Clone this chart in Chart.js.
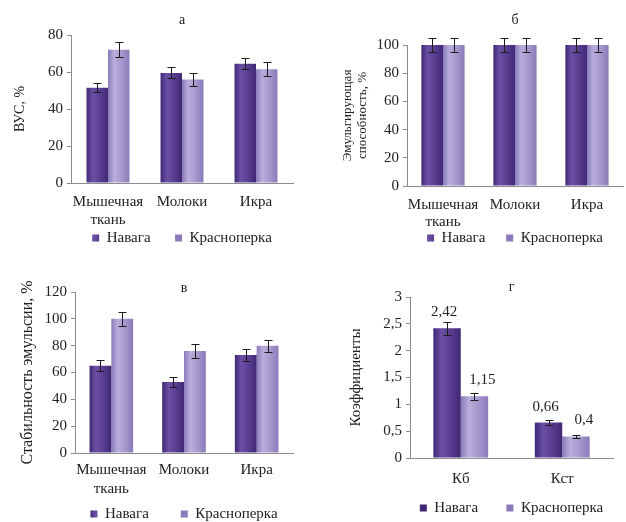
<!DOCTYPE html>
<html>
<head>
<meta charset="utf-8">
<script src="https://cdn.jsdelivr.net/npm/chart.js@4.4.1/dist/chart.umd.min.js"></script>
<style>
  html, body { margin: 0; padding: 0; background: #fff; }
  #page { position: relative; width: 626px; height: 522px; }
  .panel { position: absolute; width: 313px; height: 261px; }
</style>
</head>
<body>
<div id="page">
  <div class="panel" style="left:0;top:0"><canvas id="chartA" width="313" height="261"></canvas></div>
  <div class="panel" style="left:313px;top:0"><canvas id="chartB" width="313" height="261"></canvas></div>
  <div class="panel" style="left:0;top:261px"><canvas id="chartV" width="313" height="261"></canvas></div>
  <div class="panel" style="left:313px;top:261px"><canvas id="chartG" width="313" height="261"></canvas></div>
</div>
<script>
// categories
const tissueLabels = [['Мышечная', 'ткань'], 'Молоки', 'Икра'];
const coefLabels = ['Кб', 'Кст'];
const seriesNames = ['Навага', 'Красноперка'];

// а - ВУС, %
const wrcNavaga = [51.5, 59.5, 64.5];
const wrcNavagaErr = [2.5, 3, 3];
const wrcKrasn = [72, 56, 61.5];
const wrcKrasnErr = [4, 3.5, 3.8];

// б - эмульгирующая способность, %
const emulNavaga = [100, 100, 100];
const emulNavagaErr = [5, 5, 5];
const emulKrasn = [100, 100, 100];
const emulKrasnErr = [5, 5, 5];

// в - стабильность эмульсии, %
const stabNavaga = [65, 53, 73];
const stabNavagaErr = [4, 4, 4.5];
const stabKrasn = [100, 76, 80];
const stabKrasnErr = [5, 5, 4.5];

// г - коэффициенты
const coefNavaga = [2.42, 0.66];
const coefNavagaErr = [0.12, 0.04];
const coefKrasn = [1.15, 0.4];
const coefKrasnErr = [0.06, 0.02];

// y axis ranges: [max, step]
const wrcAxis = [80, 20];
const emulAxis = [100, 20];
const stabAxis = [120, 20];
const coefAxis = [3, 0.5];

const serif = "'Liberation Serif', 'Times New Roman', serif";
const textColor = '#222';
const axisColor = '#8c8c8c';

// fake 3D cylinder shading across each bar
function cylinder(edge, mid, light) {
    return function (c) {
        const bar = c.element;
        if (!bar || typeof bar.x !== 'number' || !bar.width) return mid;
        const x0 = bar.x - bar.width / 2;
        const g = c.chart.ctx.createLinearGradient(x0, 0, x0 + bar.width, 0);
        g.addColorStop(0, edge);
        g.addColorStop(0.3, light);
        g.addColorStop(0.65, mid);
        g.addColorStop(1, edge);
        return g;
    };
}

const navagaFill = cylinder('#3f2873', '#5a3d90', '#6c50a6');
const krasnFill = cylinder('#8a7ab9', '#a596cd', '#b9aedb');

// error bars drawn from each dataset's "errors" list
const errorBars = {
    id: 'errorBars',
    afterDatasetsDraw(chart) {
        const ctx = chart.ctx;
        const y = chart.scales.y;
        ctx.save();
        ctx.strokeStyle = '#1c1c1c';
        ctx.lineWidth = 1;
        chart.data.datasets.forEach((ds, i) => {
            if (!ds.errors) return;
            chart.getDatasetMeta(i).data.forEach((bar, j) => {
                const v = ds.data[j], e = ds.errors[j];
                const top = Math.round(y.getPixelForValue(v + e)) + 0.5;
                const bot = Math.round(y.getPixelForValue(v - e)) + 0.5;
                const x = Math.round(bar.x) + 0.5;
                ctx.beginPath();
                ctx.moveTo(x, top); ctx.lineTo(x, bot);
                ctx.moveTo(x - 4, top); ctx.lineTo(x + 4, top);
                ctx.moveTo(x - 4, bot); ctx.lineTo(x + 4, bot);
                ctx.stroke();
            });
        });
        ctx.restore();
    }
};

// value labels above the bars (panel г), comma decimals
const valueLabels = {
    id: 'valueLabels',
    afterDatasetsDraw(chart, args, opts) {
        if (!opts.show) return;
        const ctx = chart.ctx;
        const y = chart.scales.y;
        ctx.save();
        ctx.font = '15px ' + serif;
        ctx.fillStyle = textColor;
        ctx.textAlign = 'center';
        ctx.textBaseline = 'middle';
        chart.data.datasets.forEach((ds, i) => {
            const dx = opts.shift[i];
            chart.getDatasetMeta(i).data.forEach((bar, j) => {
                const v = ds.data[j];
                ctx.fillText(String(v).replace('.', ','), bar.x + dx, y.getPixelForValue(v) - 16);
            });
        });
        ctx.restore();
    }
};

function makePanel(id, p) {
    const lf = 15;
    const gapV = 2;
    const legendTop = p.legendY - gapV - lf / 2;
    const legendH = Math.min(lf + gapV + 10, 261 - legendTop);
    const titleLH = 14 * 1.2;
    const titleTop = p.titleY - titleLH / 2;
    const spacer = ' '.repeat(p.legendSpaces);

    const chart = new Chart(document.getElementById(id), {
        type: 'bar',
        data: {
            labels: p.labels,
            datasets: [
                { label: seriesNames[0], data: p.a, errors: p.aErr, backgroundColor: navagaFill, borderWidth: 0 },
                { label: seriesNames[1], data: p.b, errors: p.bErr, backgroundColor: krasnFill, borderWidth: 0 }
            ]
        },
        options: {
            responsive: false,
            animation: false,
            events: [],
            barPercentage: 1,
            categoryPercentage: p.barPct,
            layout: {
                padding: { left: 0, top: 0, right: 313 - p.right, bottom: 261 - legendTop - legendH }
            },
            plugins: {
                tooltip: { enabled: false },
                title: {
                    display: true,
                    text: p.title,
                    fullSize: false,
                    color: textColor,
                    font: { family: serif, size: 14, weight: 'normal', lineHeight: 1.2 },
                    padding: { top: titleTop, bottom: p.top - titleTop - titleLH }
                },
                legend: {
                    position: 'bottom',
                    fullSize: false,
                    maxHeight: legendH,
                    labels: {
                        boxWidth: 7,
                        boxHeight: 7,
                        padding: gapV,
                        color: textColor,
                        font: { family: serif, size: lf },
                        generateLabels(chart) {
                            const items = Chart.defaults.plugins.legend.labels.generateLabels(chart);
                            items.forEach((it, k) => { if (k < items.length - 1) it.text += spacer; });
                            return items;
                        }
                    }
                },
                valueLabels: { show: !!p.valueLabels, shift: [-3, 8] }
            },
            scales: {
                x: {
                    grid: { display: false },
                    border: { display: true, color: axisColor },
                    ticks: {
                        color: textColor,
                        padding: p.xPad,
                        maxRotation: 0,
                        autoSkip: false,
                        font: { family: serif, size: 15, lineHeight: p.xLH }
                    },
                    afterFit(s) { s.height = legendTop - p.bottom; }
                },
                y: {
                    min: 0,
                    max: p.axis[0],
                    grid: { display: true, drawOnChartArea: false, drawTicks: true, tickLength: 4, color: axisColor },
                    border: { display: true, color: axisColor },
                    ticks: {
                        stepSize: p.axis[1],
                        color: textColor,
                        padding: 4,
                        font: { family: serif, size: 15 },
                        callback: v => String(v).replace('.', ',')
                    },
                    title: {
                        display: true,
                        text: p.yTitle,
                        color: textColor,
                        font: { family: serif, size: p.yFont, lineHeight: p.yLH },
                        padding: { top: p.yTitleX - p.yFont * p.yLH / 2, bottom: 0 }
                    },
                    afterFit(s) { s.width = p.left; }
                }
            }
        },
        plugins: [errorBars, valueLabels]
    });
    // second pass so the bar shading knows where each bar sits
    chart.update();
    return chart;
}

makePanel('chartA', {
    labels: tissueLabels, a: wrcNavaga, aErr: wrcNavagaErr, b: wrcKrasn, bErr: wrcKrasnErr,
    axis: wrcAxis, title: 'а', yTitle: 'ВУС, %', yFont: 14, yLH: 1.2, yTitleX: 20,
    left: 71, right: 293, top: 35, bottom: 183, titleY: 20,
    barPct: 0.58, xPad: 2, xLH: 1.2,
    legendY: 238, legendSpaces: 6
});

makePanel('chartB', {
    labels: tissueLabels, a: emulNavaga, aErr: emulNavagaErr, b: emulKrasn, bErr: emulKrasnErr,
    axis: emulAxis, title: 'б', yTitle: ['Эмульгирующая', 'способность, %'], yFont: 13, yLH: 1.15, yTitleX: 35,
    left: 94, right: 310, top: 45, bottom: 186, titleY: 20,
    barPct: 0.6, xPad: 2, xLH: 1.15,
    legendY: 238, legendSpaces: 5
});

makePanel('chartV', {
    labels: tissueLabels, a: stabNavaga, aErr: stabNavagaErr, b: stabKrasn, bErr: stabKrasnErr,
    axis: stabAxis, title: 'в', yTitle: 'Стабильность эмульсии, %', yFont: 16, yLH: 1.2, yTitleX: 28,
    left: 75, right: 293, top: 31, bottom: 192, titleY: 27,
    barPct: 0.6, xPad: -1, xLH: 1.3,
    legendY: 253, legendSpaces: 8
});

makePanel('chartG', {
    labels: coefLabels, a: coefNavaga, aErr: coefNavagaErr, b: coefKrasn, bErr: coefKrasnErr,
    axis: coefAxis, title: 'г', yTitle: 'Коэффициенты', yFont: 15, yLH: 1.2, yTitleX: 43,
    left: 97, right: 300, top: 36, bottom: 197, titleY: 26,
    barPct: 0.54, xPad: 4, xLH: 1.2,
    legendY: 247, legendSpaces: 7,
    valueLabels: true
});
</script>
</body>
</html>
